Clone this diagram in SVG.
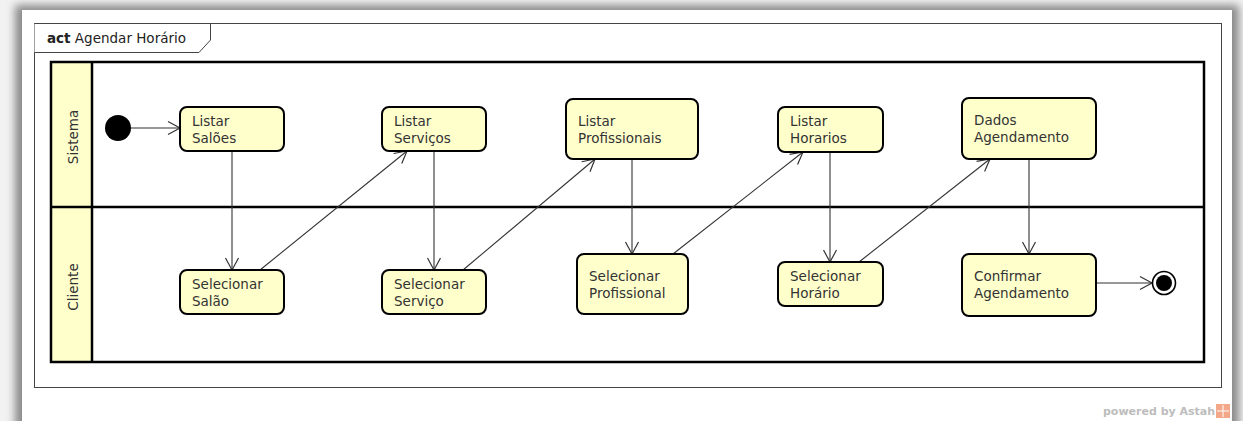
<svg xmlns="http://www.w3.org/2000/svg" width="1243" height="421" viewBox="0 0 1243 421">
<defs>
<filter id="sh" x="-5%" y="-10%" width="110%" height="130%"><feGaussianBlur stdDeviation="4"/></filter>
<marker id="arr" markerUnits="userSpaceOnUse" markerWidth="16" markerHeight="16" viewBox="-14 -8 16 16" refX="0" refY="0" orient="auto">
<path d="M-12,-6.5 L0,0 L-12,6.5" fill="none" stroke="#333" stroke-width="1.2"/>
</marker>
<style>
.act{fill:#ffffcc;stroke:#000;stroke-width:2}
.t{font-family:"DejaVu Sans","Liberation Sans",sans-serif;font-size:13.5px;fill:#333}
.c{fill:none;stroke:#333;stroke-width:1.1;marker-end:url(#arr)}
.lane{fill:none;stroke:#000;stroke-width:2.5}
</style>
</defs>
<rect x="0" y="0" width="1243" height="421" fill="#f2f2f2"/>
<rect x="15" y="5" width="1224" height="450" fill="#8a8a8a" filter="url(#sh)"/>
<rect x="22" y="10" width="1210" height="420" fill="#fff"/>
<g id="frame">
<rect x="34.5" y="23.5" width="1187" height="364" fill="none" stroke="#444" stroke-width="1"/>
<path d="M34.5,23.5 H210.5 V40 L199,52.5 H34.5" fill="#fff" stroke="#444" stroke-width="1"/>
<text x="47" y="43" style="font-family:'DejaVu Sans','Liberation Sans',sans-serif;font-size:13.5px;fill:#222"><tspan font-weight="bold">act</tspan> Agendar Horário</text>
</g>
<g id="swimlanes">
<rect x="51" y="62" width="41" height="300" fill="#ffffcc"/>
<rect x="51" y="62" width="1153" height="300" class="lane"/>
<line x1="92" y1="62" x2="92" y2="362" class="lane"/>
<line x1="51" y1="207" x2="1204" y2="207" class="lane"/>
<text class="t" transform="translate(73,137) rotate(-90)" text-anchor="middle" dominant-baseline="central">Sistema</text>
<text class="t" transform="translate(73,287) rotate(-90)" text-anchor="middle" dominant-baseline="central">Cliente</text>
</g>
<g id="connectors">
<line class="c" x1="131" y1="128" x2="180" y2="128"/>
<line class="c" x1="232" y1="151" x2="232" y2="270"/>
<line class="c" x1="260" y1="270" x2="407" y2="151"/>
<line class="c" x1="434" y1="151" x2="434" y2="270"/>
<line class="c" x1="463" y1="270" x2="595" y2="159"/>
<line class="c" x1="632" y1="159" x2="632" y2="254"/>
<line class="c" x1="673" y1="254" x2="803" y2="152"/>
<line class="c" x1="830" y1="152" x2="830" y2="262"/>
<line class="c" x1="859" y1="262" x2="990" y2="159"/>
<line class="c" x1="1029" y1="159" x2="1029" y2="254"/>
<line class="c" x1="1096" y1="283" x2="1152" y2="283"/>
</g>
<g id="initial"><circle cx="118" cy="128" r="13" fill="#000"/></g>
<g id="listar-saloes"><rect class="act" x="180" y="107" width="104" height="44" rx="7"/><text class="t" x="192" y="126">Listar</text><text class="t" x="192" y="142.5">Salões</text></g>
<g id="selecionar-salao"><rect class="act" x="180" y="270" width="104" height="44" rx="7"/><text class="t" x="192" y="289">Selecionar</text><text class="t" x="192" y="305.5">Salão</text></g>
<g id="listar-servicos"><rect class="act" x="382" y="107" width="104" height="44" rx="7"/><text class="t" x="394" y="126">Listar</text><text class="t" x="394" y="142.5">Serviços</text></g>
<g id="selecionar-servico"><rect class="act" x="382" y="270" width="104" height="44" rx="7"/><text class="t" x="394" y="289">Selecionar</text><text class="t" x="394" y="305.5">Serviço</text></g>
<g id="listar-profissionais"><rect class="act" x="566" y="99" width="132" height="60" rx="7"/><text class="t" x="578" y="126">Listar</text><text class="t" x="578" y="142.5">Profissionais</text></g>
<g id="selecionar-profissional"><rect class="act" x="577" y="254" width="111" height="60" rx="7"/><text class="t" x="589" y="281">Selecionar</text><text class="t" x="589" y="297.5">Profissional</text></g>
<g id="listar-horarios"><rect class="act" x="778" y="107" width="105" height="45" rx="7"/><text class="t" x="790" y="126">Listar</text><text class="t" x="790" y="142.5">Horarios</text></g>
<g id="selecionar-horario"><rect class="act" x="778" y="262" width="105" height="44" rx="7"/><text class="t" x="790" y="281">Selecionar</text><text class="t" x="790" y="297.5">Horário</text></g>
<g id="dados-agendamento"><rect class="act" x="962" y="98" width="134" height="61" rx="7"/><text class="t" x="974" y="125">Dados</text><text class="t" x="974" y="141.5">Agendamento</text></g>
<g id="confirmar-agendamento"><rect class="act" x="962" y="254" width="134" height="62" rx="7"/><text class="t" x="974" y="281">Confirmar</text><text class="t" x="974" y="297.5">Agendamento</text></g>
<g id="final"><circle cx="1164" cy="283" r="11.5" fill="#fff" stroke="#000" stroke-width="1.6"/><circle cx="1164" cy="283" r="8" fill="#000"/></g>
<g id="watermark">
<text x="1103" y="415" style="font-family:'DejaVu Sans','Liberation Sans',sans-serif;font-size:11px;font-weight:bold;fill:#bdbdbd">powered by Astah</text>
<rect x="1216" y="404" width="14" height="14" fill="#f2a889"/>
<path d="M1217,411 H1229 M1223,405 V417" stroke="#fff" stroke-width="1"/>
</g>
</svg>
